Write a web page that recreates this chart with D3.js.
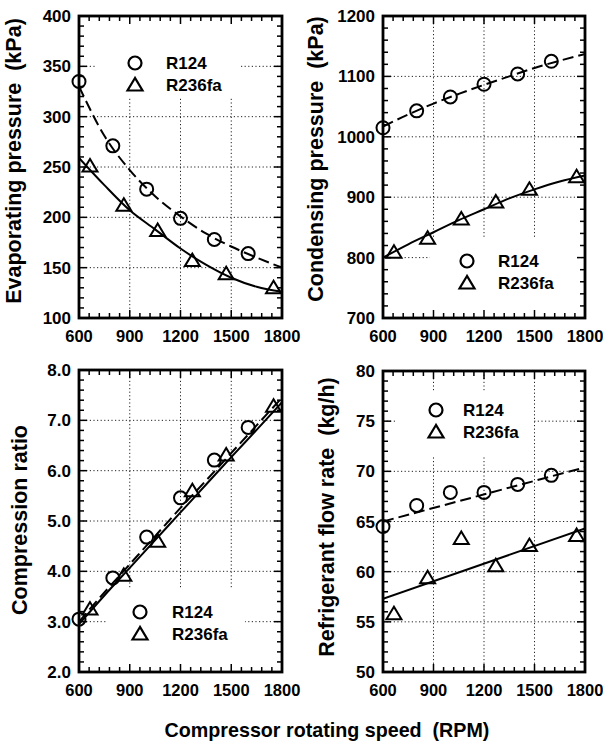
<!DOCTYPE html>
<html><head><meta charset="utf-8">
<script src="https://cdn.jsdelivr.net/npm/d3@7"></script>
<style>
body{margin:0;background:#fff;}
text{font-family:"Liberation Sans",Arial,sans-serif;font-weight:bold;fill:#000;white-space:pre;}
</style></head>
<body>
<svg id="chart" width="603" height="746"></svg>
<script>
// ---------- data ----------
const rpmTicks = [600, 900, 1200, 1500, 1800];
const rpmR124 = [600, 800, 1000, 1200, 1400, 1600];
const rpmR236fa = [665, 865, 1065, 1270, 1470, 1750];
const evapR124 = [335, 271, 228, 199, 178, 164];
const evapR236fa = [251, 212, 187, 157, 144, 130];
const condR124 = [1015, 1043, 1066, 1087, 1104, 1125];
const condR236fa = [809, 832, 864, 892, 913, 934];
const ratioR124 = [3.05, 3.87, 4.68, 5.46, 6.21, 6.86];
const ratioR236fa = [3.25, 3.92, 4.60, 5.60, 6.31, 7.28];
const flowR124 = [64.5, 66.6, 67.9, 67.9, 68.7, 69.6];
const flowR236fa = [55.8, 59.4, 63.3, 60.6, 62.6, 63.6];
// fitted curves
const fitRpm = [600, 750, 900, 1050, 1200, 1350, 1500, 1650, 1800];
const evapFitR124 = [330, 281, 247, 221, 201, 184, 171, 160, 150];
const evapFitR236fa = [259, 232, 207, 188, 169, 153, 140, 131, 126];
const condFitR124 = [1017, 1037, 1055, 1071, 1086, 1100, 1114, 1126, 1137];
const condFitR236fa = [800, 822, 842, 862, 880, 898, 913, 926, 936];
const ratioFitR124 = [3.0, 3.58, 4.14, 4.70, 5.26, 5.80, 6.35, 6.90, 7.45];
const ratioFitR236fa = [2.95, 3.52, 4.07, 4.62, 5.17, 5.72, 6.27, 6.81, 7.36];
const lineRpm = [600, 1800];
const flowFitR124 = [65.0, 70.4];
const flowFitR236fa = [57.3, 64.3];
const evapTicks = [100, 150, 200, 250, 300, 350, 400];
const condTicks = [700, 800, 900, 1000, 1100, 1200];
const ratioTicks = [2, 3, 4, 5, 6, 7, 8];
const flowTicks = [50, 55, 60, 65, 70, 75, 80];
const seriesNames = ["R124", "R236fa"];

// ---------- layout ----------
const svg = d3.select("#chart");
const panels = [
  {box:[79,282,16,318], yTicks:evapTicks, yMinor:10, fmt:d3.format("d"), title:"Evaporating pressure  (kPa)", titleX:21, titleY:161,
   a:{x:rpmR124,y:evapR124}, b:{x:rpmR236fa,y:evapR236fa}, fa:{x:fitRpm,y:evapFitR124}, fb:{x:fitRpm,y:evapFitR236fa},
   leg:{x:135,y:63,dx:31, bg:[97,16,240,97]}},
  {box:[383,585,16,318], yTicks:condTicks, yMinor:20, fmt:d3.format("d"), title:"Condensing pressure  (kPa)", titleX:323, titleY:159,
   a:{x:rpmR124,y:condR124}, b:{x:rpmR236fa,y:condR236fa}, fa:{x:fitRpm,y:condFitR124}, fb:{x:fitRpm,y:condFitR236fa},
   leg:{x:467,y:261,dx:31, bg:[430,238,577,318]}},
  {box:[79,282,370,672], yTicks:ratioTicks, yMinor:0.2, fmt:d3.format(".1f"), title:"Compression ratio", titleX:27, titleY:520,
   a:{x:rpmR124,y:ratioR124}, b:{x:rpmR236fa,y:ratioR236fa}, fa:{x:fitRpm,y:ratioFitR124}, fb:{x:fitRpm,y:ratioFitR236fa},
   leg:{x:140,y:612,dx:32, bg:[107,588,245,672]}},
  {box:[383,585,371,672], yTicks:flowTicks, yMinor:1, fmt:d3.format("d"), title:"Refrigerant flow rate  (kg/h)", titleX:334, titleY:517,
   a:{x:rpmR124,y:flowR124}, b:{x:rpmR236fa,y:flowR236fa}, fa:{x:lineRpm,y:flowFitR124}, fb:{x:lineRpm,y:flowFitR236fa},
   leg:{x:436,y:410,dx:27, bg:[397,392,533,455]}}
];

function triPath(x, y){ return `M${x},${y-7}L${x-7.5},${y+5.5}L${x+7.5},${y+5.5}Z`; }

panels.forEach(p => {
  const [x0,x1,y0,y1] = p.box;
  const ydom = d3.extent(p.yTicks);
  const x = d3.scaleLinear().domain([600,1800]).range([x0,x1]);
  const y = d3.scaleLinear().domain(ydom).range([y1,y0]);
  const g = svg.append("g");

  // grid
  const xi = rpmTicks.slice(1,-1), yi = p.yTicks.slice(1,-1);
  g.selectAll(null).data(xi).enter().append("line")
    .attr("x1",d=>x(d)).attr("x2",d=>x(d)).attr("y1",y0).attr("y2",y1)
    .attr("stroke","#222").attr("stroke-width",1).attr("stroke-dasharray","1.2,2.4");
  g.selectAll(null).data(yi).enter().append("line")
    .attr("y1",d=>y(d)).attr("y2",d=>y(d)).attr("x1",x0).attr("x2",x1)
    .attr("stroke","#222").attr("stroke-width",1).attr("stroke-dasharray","1.2,2.4");

  // legend background
  const bg = p.leg.bg;
  g.append("rect").attr("x",bg[0]).attr("y",bg[1]).attr("width",bg[2]-bg[0]).attr("height",bg[3]-bg[1]).attr("fill","#fff");

  // ticks (inward, all sides)
  const xMinor = d3.range(600, 1800.1, 60);
  const yMinor = d3.range(ydom[0], ydom[1]+p.yMinor/2, p.yMinor);
  const isMajX = d => rpmTicks.some(t=>Math.abs(t-d)<1e-6);
  const isMajY = d => p.yTicks.some(t=>Math.abs(t-d)<1e-6);
  xMinor.forEach(d=>{
    const L = isMajX(d)?8:5;
    g.append("line").attr("x1",x(d)).attr("x2",x(d)).attr("y1",y1).attr("y2",y1-L).attr("stroke","#000").attr("stroke-width",1.5);
    g.append("line").attr("x1",x(d)).attr("x2",x(d)).attr("y1",y0).attr("y2",y0+L).attr("stroke","#000").attr("stroke-width",1.5);
  });
  yMinor.forEach(d=>{
    const L = isMajY(d)?8:5;
    g.append("line").attr("y1",y(d)).attr("y2",y(d)).attr("x1",x0).attr("x2",x0+L).attr("stroke","#000").attr("stroke-width",1.5);
    g.append("line").attr("y1",y(d)).attr("y2",y(d)).attr("x1",x1).attr("x2",x1-L).attr("stroke","#000").attr("stroke-width",1.5);
  });

  // frame
  g.append("rect").attr("x",x0).attr("y",y0).attr("width",x1-x0).attr("height",y1-y0)
    .attr("fill","none").attr("stroke","#000").attr("stroke-width",2.8);

  // tick labels
  g.selectAll(null).data(rpmTicks).enter().append("text")
    .attr("x",d=>x(d)).attr("y",y1+24).attr("text-anchor","middle").attr("font-size",16.5).text(d=>d);
  g.selectAll(null).data(p.yTicks).enter().append("text")
    .attr("x",x0-8).attr("y",d=>y(d)+6).attr("text-anchor","end").attr("font-size",17).text(d=>p.fmt(d));

  // axis title
  g.append("text").attr("transform",`translate(${p.titleX},${p.titleY}) rotate(-90)`)
    .attr("text-anchor","middle").attr("font-size",21.5).text(p.title);

  // fit lines
  const line = d3.line().x(d=>x(d[0])).y(d=>y(d[1])).curve(d3.curveMonotoneX);
  const clipId = "clip"+x0+"_"+y0;
  svg.append("clipPath").attr("id",clipId).append("rect").attr("x",x0).attr("y",y0).attr("width",x1-x0).attr("height",y1-y0);
  g.append("path").datum(d3.zip(p.fa.x,p.fa.y)).attr("d",line).attr("fill","none")
    .attr("stroke","#000").attr("stroke-width",2).attr("stroke-dasharray","11,5").attr("clip-path",`url(#${clipId})`);
  g.append("path").datum(d3.zip(p.fb.x,p.fb.y)).attr("d",line).attr("fill","none")
    .attr("stroke","#000").attr("stroke-width",2).attr("clip-path",`url(#${clipId})`);

  // markers
  g.selectAll(null).data(d3.zip(p.a.x,p.a.y)).enter().append("circle")
    .attr("cx",d=>x(d[0])).attr("cy",d=>y(d[1])).attr("r",6.5)
    .attr("fill","none").attr("stroke","#000").attr("stroke-width",2);
  g.selectAll(null).data(d3.zip(p.b.x,p.b.y)).enter().append("path")
    .attr("d",d=>triPath(x(d[0]),y(d[1])))
    .attr("fill","none").attr("stroke","#000").attr("stroke-width",2).attr("stroke-linejoin","miter");

  // legend
  const lx = p.leg.x, ly = p.leg.y;
  g.append("circle").attr("cx",lx).attr("cy",ly).attr("r",6.5).attr("fill","none").attr("stroke","#000").attr("stroke-width",2.2);
  g.append("path").attr("d",triPath(lx,ly+22)).attr("fill","none").attr("stroke","#000").attr("stroke-width",2.2);
  g.append("text").attr("x",lx+p.leg.dx).attr("y",ly+6).attr("font-size",17).text(seriesNames[0]);
  g.append("text").attr("x",lx+p.leg.dx).attr("y",ly+28).attr("font-size",17).text(seriesNames[1]);
});

svg.append("text").attr("x",327).attr("y",737).attr("text-anchor","middle").attr("font-size",19.7)
  .text("Compressor rotating speed  (RPM)");
</script>
</body></html>
